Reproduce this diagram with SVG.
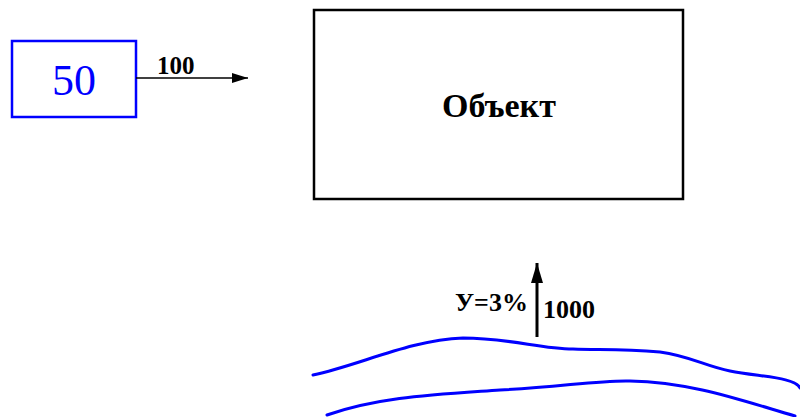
<svg xmlns="http://www.w3.org/2000/svg" width="800" height="417" viewBox="0 0 800 417">
<style>
.lbl{font-family:"Liberation Serif",serif;font-weight:bold;font-size:25px;fill:#000}
.conn{stroke:#000;fill:none}
.wave{stroke:#0000ff;stroke-width:3;fill:none;stroke-linecap:round}
</style>
<defs>
<marker id="ah" markerWidth="16" markerHeight="10" refX="16" refY="5" orient="auto" markerUnits="userSpaceOnUse">
<path d="M0,0 L16,5 L0,10 Z" fill="#000"/>
</marker>
<marker id="ah2" markerWidth="20" markerHeight="12" refX="20" refY="6" orient="auto" markerUnits="userSpaceOnUse">
<path d="M0,0 L20,6 L0,12 Z" fill="#000"/>
</marker>
</defs>
<rect width="800" height="417" fill="#fff"/>
<g id="source">
<rect x="12" y="41" width="124" height="76" fill="#fff" stroke="#0000ff" stroke-width="2.5"/>
<text x="74" y="95" text-anchor="middle" style="font-family:'Liberation Serif',serif;font-size:44px" fill="#0000ff">50</text>
</g>
<g id="object">
<rect x="314" y="10" width="369" height="189" fill="#fff" stroke="#000" stroke-width="2.5"/>
<text x="499" y="117" text-anchor="middle" class="lbl" style="font-size:34px">Объект</text>
</g>
<g id="river">
<path class="wave" d="M313,375 C360,365 410,340 463,338 C510,338 540,349 573,349 C600,350 620,349 660,352 C690,356 705,366 730,371 C760,377 795,377 800,388"/>
<path class="wave" d="M327,415 C380,397 430,395 500,390 C560,387 600,380 630,381 C690,382 740,400 795,416"/>
</g>
<g id="connectors">
<line class="conn" x1="136" y1="78" x2="248" y2="78" marker-end="url(#ah)" stroke-width="1.5"/>
<text x="157" y="74" class="lbl">100</text>
<line class="conn" x1="537" y1="337" x2="537" y2="263" marker-end="url(#ah2)" stroke-width="3"/>
<text x="455" y="311" class="lbl" style="font-size:26px">У=3%</text>
<text x="543" y="318" class="lbl" style="font-size:26px">1000</text>
</g>
</svg>
